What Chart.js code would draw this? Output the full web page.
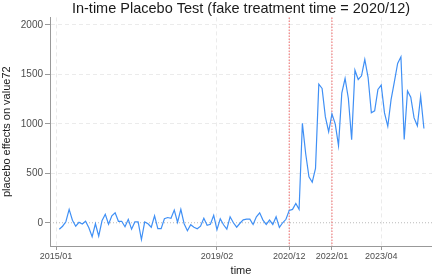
<!DOCTYPE html>
<html>
<head>
<meta charset="utf-8">
<script src="https://cdn.jsdelivr.net/npm/chart.js@4"></script>
<style>
  html, body { margin: 0; padding: 0; background: #fff; }
  #wrap { width: 432px; height: 278px; }
</style>
</head>
<body>
<div id="wrap"><canvas id="placebo"></canvas></div>
<script>
// months are counted from 2015/01 (= 0); the series starts at 2015/02
const firstMonth = 1;
const effects = [
  -65, -35, 10, 135, 25, -35, 5, -12, 15, -50,
  -140, -10, -135, 20, 85, -15, 70, 100, 15, 15,
  -40, 35, -65, 8, 8, -170, 8, -10, -45, 70,
  -60, -60, 40, 53, 45, 128, 5, 135, -10, -80,
  -20, -45, -60, -35, 45, -25, -15, 75, -70, 40,
  -20, -65, 60, 0, -45, -5, 30, 37, 37, -17,
  60, 100, 27, -17, 27, -17, 60, -47, 0, 35,
  125, 135, 195, 135, 1005, 700, 465, 410, 550, 1400,
  1357, 1070, 920, 1100, 1000, 780, 1310, 1458, 1256, 840,
  1542, 1448, 1485, 1650, 1470, 1111, 1131, 1347, 1391, 1110,
  975, 1245, 1424, 1610, 1677, 842, 1333, 1270, 1060, 980,
  1280, 953
];
const tickMonths = [0, 49, 71, 84, 99];
const tickLabels = ["2015/01", "2019/02", "2020/12", "2022/01", "2023/04"];
const yTicks = [0, 500, 1000, 1500, 2000];
const refMonths = [71, 84]; // fake treatment time and real one

const points = effects.map((v, i) => ({x: firstMonth + i, y: v}));

const refLines = {
  id: "refLines",
  beforeDatasetsDraw(chart) {
    const {ctx, chartArea: a, scales: {x, y}} = chart;
    ctx.save();
    const y0 = y.getPixelForValue(0);
    ctx.strokeStyle = "#a8a8a8";
    ctx.lineWidth = 0.8;
    ctx.setLineDash([1, 2]);
    ctx.beginPath();
    ctx.moveTo(a.left, y0);
    ctx.lineTo(a.right, y0);
    ctx.stroke();
    ctx.strokeStyle = "#f28282";
    ctx.lineWidth = 1.2;
    ctx.setLineDash([1.5, 1.5]);
    refMonths.forEach(m => {
      const px = x.getPixelForValue(m);
      ctx.beginPath();
      ctx.moveTo(px, a.top);
      ctx.lineTo(px, a.bottom);
      ctx.stroke();
    });
    ctx.restore();
  }
};

Chart.defaults.font.family = "'Liberation Sans', Arial, sans-serif";
Chart.defaults.color = "#4d4d4d";

new Chart(document.getElementById("placebo"), {
  type: "line",
  data: {
    datasets: [{
      data: points,
      borderColor: "rgb(64,144,245)",
      borderWidth: 1.2,
      pointRadius: 0,
      tension: 0,
      fill: false
    }]
  },
  options: {
    responsive: true,
    maintainAspectRatio: false,
    animation: false,
    layout: { padding: 0 },
    plugins: {
      legend: { display: false },
      tooltip: { enabled: false },
      title: {
        display: true,
        text: "In-time Placebo Test (fake treatment time = 2020/12)",
        fullSize: false,
        color: "#1a1a1a",
        font: { size: 14.5, weight: "normal" },
        padding: { top: 0, bottom: 0 }
      }
    },
    scales: {
      x: {
        type: "linear",
        min: -1.83,
        max: 114.46,
        afterFit: s => { s.height = 32; },
        afterBuildTicks: s => { s.ticks = tickMonths.map(v => ({value: v})); },
        ticks: {
          font: { size: 9 },
          padding: 1,
          maxRotation: 0,
          callback: v => tickLabels[tickMonths.indexOf(v)]
        },
        grid: { color: "#ebebeb", tickColor: "#999", tickLength: 4 },
        border: { color: "#999", width: 1, dash: [4, 3] },
        title: {
          display: true,
          text: "time",
          color: "#1a1a1a",
          font: { size: 11 },
          padding: 0
        }
      },
      y: {
        min: -234.9,
        max: 2075.6,
        afterFit: s => { s.width = 50; },
        afterBuildTicks: s => { s.ticks = yTicks.map(v => ({value: v})); },
        ticks: { font: { size: 10 }, padding: 2, callback: v => String(v) },
        grid: {
          color: c => (c.tick && c.tick.value === 0) ? "rgba(0,0,0,0)" : "#ebebeb",
          tickColor: "#999",
          tickLength: 5
        },
        border: { color: "#999", width: 1, dash: [4, 3] },
        title: {
          display: true,
          text: "placebo effects on value72",
          color: "#1a1a1a",
          font: { size: 11 },
          padding: 0
        }
      }
    }
  },
  plugins: [refLines]
});
</script>
</body>
</html>
